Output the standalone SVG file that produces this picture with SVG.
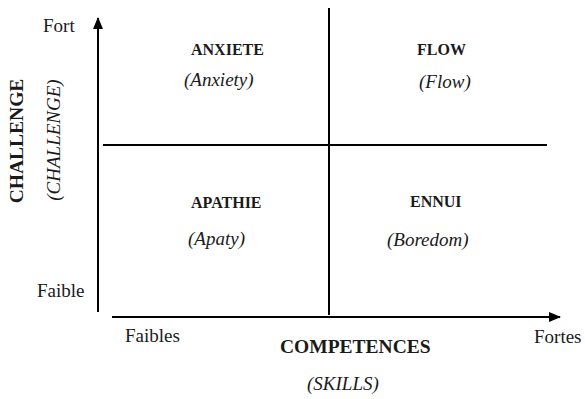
<svg xmlns="http://www.w3.org/2000/svg" width="585" height="399" viewBox="0 0 585 399">
<style>
text{font-family:'Liberation Serif','DejaVu Serif','Noto Serif',serif;fill:#1a1a1a}
.r{font-size:19px}
.b{font-size:16px;font-weight:bold}
.bb{font-size:19.5px;font-weight:bold}
.i{font-size:19px;font-style:italic}
.ln{stroke:#000;stroke-width:2;fill:none}
</style>
<defs>
<marker id="ah" viewBox="0 0 12 10" refX="11" refY="5" markerWidth="12" markerHeight="10" markerUnits="userSpaceOnUse" orient="auto">
<path d="M0,0 L12,5 L0,10 Z" fill="#000"/>
</marker>
</defs>
<g id="connectors">
<line class="ln" x1="98" y1="312" x2="98" y2="18" marker-end="url(#ah)"/>
<line class="ln" x1="112" y1="317" x2="560" y2="317" marker-end="url(#ah)"/>
<line class="ln" x1="329" y1="8" x2="329" y2="315"/>
<line class="ln" x1="103" y1="145" x2="547" y2="145"/>
</g>
<g id="axis-y">
<text class="r" x="43" y="32" font-family="Liberation Serif, serif">Fort</text>
<text class="r" x="37" y="297">Faible</text>
<text class="bb" text-anchor="middle" transform="translate(23,141) rotate(-90)">CHALLENGE</text>
<text class="i" text-anchor="middle" transform="translate(60,140) rotate(-90)">(CHALLENGE)</text>
</g>
<g id="axis-x">
<text class="r" x="125" y="342">Faibles</text>
<text class="r" x="534" y="343">Fortes</text>
<text class="bb" x="280" y="353">COMPETENCES</text>
<text class="i" x="307" y="390">(SKILLS)</text>
</g>
<g id="q-anxiety">
<text class="b" x="191" y="55">ANXIETE</text>
<text class="i" x="184" y="86">(Anxiety)</text>
</g>
<g id="q-flow">
<text class="b" x="417" y="55">FLOW</text>
<text class="i" x="419" y="88">(Flow)</text>
</g>
<g id="q-apathy">
<text class="b" x="191" y="208">APATHIE</text>
<text class="i" x="188" y="245">(Apaty)</text>
</g>
<g id="q-boredom">
<text class="b" x="410" y="207">ENNUI</text>
<text class="i" x="387" y="246">(Boredom)</text>
</g>
</svg>
